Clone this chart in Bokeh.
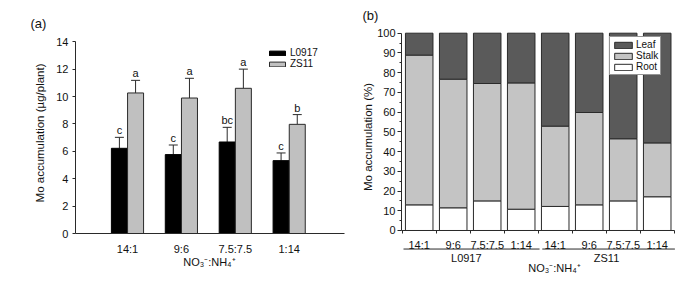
import math
from bokeh.plotting import figure
from bokeh.models import FixedTicker, Legend, LegendItem, ColumnDataSource
from bokeh.layouts import row
from bokeh.core.properties import value
from bokeh.embed import file_html
from bokeh.resources import INLINE

# ---------------- data ----------------
ratios = ["14:1", "9:6", "7.5:7.5", "1:14"]
cultivars = ["L0917", "ZS11"]
mo_L0917 = [6.22, 5.76, 6.68, 5.32]
err_L0917 = [0.80, 0.70, 1.07, 0.56]
mo_ZS11 = [10.26, 9.89, 10.60, 7.97]
err_ZS11 = [0.92, 1.44, 1.40, 0.71]
sig_L0917 = ["c", "c", "bc", "c"]
sig_ZS11 = ["a", "a", "a", "b"]

organs = ["Root", "Stalk", "Leaf"]
root_pct = [13.0, 11.5, 15.0, 10.8, 12.2, 13.0, 15.0, 17.1]
stalk_pct = [75.9, 65.2, 59.5, 64.0, 40.7, 46.8, 31.5, 27.3]
leaf_pct = [11.1, 23.3, 25.5, 25.2, 47.1, 40.2, 53.5, 55.6]

FONT = "Liberation Sans"
TXT = "#111111"
EDGE = "#2a2a2a"

def style_axis(ax, size="11px"):
    ax.axis_line_color = EDGE
    ax.major_tick_line_color = EDGE
    ax.minor_tick_line_color = EDGE
    ax.major_label_text_font = FONT
    ax.major_label_text_font_size = size
    ax.major_label_text_color = TXT
    ax.axis_label = None

# ---------------- panel (a) ----------------
pa = figure(width=345, height=281, min_border=0, x_range=(-1.356, 5.045),
            y_range=(-3.504, 17.01), output_backend="svg", toolbar_location=None)
pa.grid.visible = False
pa.outline_line_color = None

xs = list(range(1, len(ratios) + 1))
off = 0.15
bw = 0.297
xL = [x - off for x in xs]
xZ = [x + off for x in xs]
srcL = ColumnDataSource(dict(x=xL, top=mo_L0917,
                             up=[m + e for m, e in zip(mo_L0917, err_L0917)], sig=sig_L0917))
srcZ = ColumnDataSource(dict(x=xZ, top=mo_ZS11,
                             up=[m + e for m, e in zip(mo_ZS11, err_ZS11)], sig=sig_ZS11))

for src, col in ((srcL, "#000000"), (srcZ, "#c0c0c0")):
    pa.segment(x0="x", x1="x", y0="top", y1="up", source=src, line_color=EDGE, line_width=1)
    pa.scatter(x="x", y="up", source=src, marker="dash", size=9, line_color=EDGE, line_width=1)
rL = pa.vbar(x="x", top="top", width=bw, bottom=0, source=srcL, fill_color="#000000", line_color="#000000")
rZ = pa.vbar(x="x", top="top", width=bw, bottom=0, source=srcZ, fill_color="#c0c0c0", line_color=EDGE)
for src in (srcL, srcZ):
    pa.text(x="x", y="up", text="sig", source=src, text_align="center", text_baseline="alphabetic",
            y_offset=-7, text_font=value(FONT), text_font_size="11px", text_color=TXT)

ya = pa.yaxis[0]
style_axis(ya)
ya.fixed_location = 0.035
ya.bounds = (0, 14)
ya.ticker = FixedTicker(ticks=list(range(0, 15, 2)))
ya.major_tick_out = 3
ya.major_tick_in = 0
ya.minor_tick_out = 0
ya.minor_tick_in = 0
ya.major_label_standoff = 4

xa = pa.xaxis[0]
style_axis(xa)
xa.fixed_location = 0
xa.bounds = (0.035, 5.026)
xa.ticker = FixedTicker(ticks=xs)
xa.major_label_overrides = {x: r for x, r in zip(xs, ratios)}
xa.major_tick_out = 0
xa.major_tick_in = 0
xa.minor_tick_out = 0
xa.minor_tick_in = 0
xa.major_label_standoff = 9

pa.text(x=[-0.614], y=[7.34], text=["Mo accumulation (µg/plant)"], angle=math.pi / 2,
        text_align="center", text_baseline="middle", text_font=value(FONT),
        text_font_size="11.5px", text_color=TXT)
pa.text(x=[2.52], y=[-2.09], text=["NO₃⁻:NH₄⁺"], text_align="center", text_baseline="middle",
        text_font=value(FONT), text_font_size="11px", text_color=TXT)
pa.text(x=[-0.8], y=[15.34], text=["(a)"], text_align="left", text_baseline="middle",
        text_font=value(FONT), text_font_size="13px", text_color=TXT)

lega = Legend(items=[LegendItem(label=cultivars[0], renderers=[rL]),
                     LegendItem(label=cultivars[1], renderers=[rZ])],
              location=(267, 212), border_line_color=None, background_fill_alpha=0,
              padding=0, spacing=0, margin=0, glyph_width=20, glyph_height=6,
              label_height=11, label_standoff=3, label_text_font=FONT,
              label_text_font_size="10px", label_text_color=TXT)
pa.add_layout(lega)

# ---------------- panel (b) ----------------
pb = figure(width=350, height=281, min_border=0, x_range=(-1.168, 9.126),
            y_range=(-25.85, 116.57), output_backend="svg", toolbar_location=None)
pb.grid.visible = False
pb.outline_line_color = None

xb = list(range(1, 9))
srcB = ColumnDataSource(dict(x=xb, Root=root_pct, Stalk=stalk_pct, Leaf=leaf_pct))
rs = pb.vbar_stack(organs, x="x", width=0.81, source=srcB,
                   fill_color=["#ffffff", "#c4c4c4", "#5a5a5a"], line_color=EDGE, line_width=1)

yb = pb.yaxis[0]
style_axis(yb)
yb.fixed_location = 0.479
yb.bounds = (0, 100)
yb.ticker = FixedTicker(ticks=list(range(0, 101, 10)), minor_ticks=list(range(5, 100, 10)))
yb.major_tick_out = 4
yb.major_tick_in = 0
yb.minor_tick_out = 2
yb.minor_tick_in = 0
yb.major_label_standoff = 2

xbax = pb.xaxis[0]
style_axis(xbax)
xbax.fixed_location = 0
xbax.bounds = (0.479, 8.509)
xbax.ticker = FixedTicker(ticks=xb, minor_ticks=[x + 0.5 for x in range(0, 9)])
xbax.major_label_overrides = {x: ratios[(x - 1) % 4] for x in xb}
xbax.major_tick_out = 0
xbax.major_tick_in = 0
xbax.minor_tick_out = 3
xbax.minor_tick_in = 0
xbax.major_label_standoff = 6

pb.segment(x0=[0.538, 4.62], x1=[4.54, 8.52], y0=[-9.4, -9.4], y1=[-9.4, -9.4],
           line_color=EDGE, line_width=1)
pb.text(x=[2.385, 6.51], y=[-14.0, -14.0], text=cultivars, text_align="center",
        text_baseline="middle", text_font=value(FONT), text_font_size="11px", text_color=TXT)
pb.text(x=[4.98], y=[-19.1], text=["NO₃⁻:NH₄⁺"], text_align="center", text_baseline="middle",
        text_font=value(FONT), text_font_size="11px", text_color=TXT)
pb.text(x=[-0.52], y=[47.4], text=["Mo accumulation (%)"], angle=math.pi / 2,
        text_align="center", text_baseline="middle", text_font=value(FONT),
        text_font_size="11.5px", text_color=TXT)
pb.text(x=[-0.668], y=[109.0], text=["(b)"], text_align="left", text_baseline="middle",
        text_font=value(FONT), text_font_size="13px", text_color=TXT)

legb = Legend(items=[LegendItem(label=organs[2], renderers=[rs[2]]),
                     LegendItem(label=organs[1], renderers=[rs[1]]),
                     LegendItem(label=organs[0], renderers=[rs[0]])],
              location=(264, 206), border_line_color=EDGE, border_line_width=1,
              background_fill_color="#ffffff", background_fill_alpha=1,
              padding=2, spacing=0, margin=0, glyph_width=22, glyph_height=8,
              label_height=11, label_standoff=2, label_text_font=FONT,
              label_text_font_size="10px", label_text_color=TXT)
pb.add_layout(legb)

layout = row(pa, pb)
open("out.html", "w").write(file_html(layout, INLINE))
